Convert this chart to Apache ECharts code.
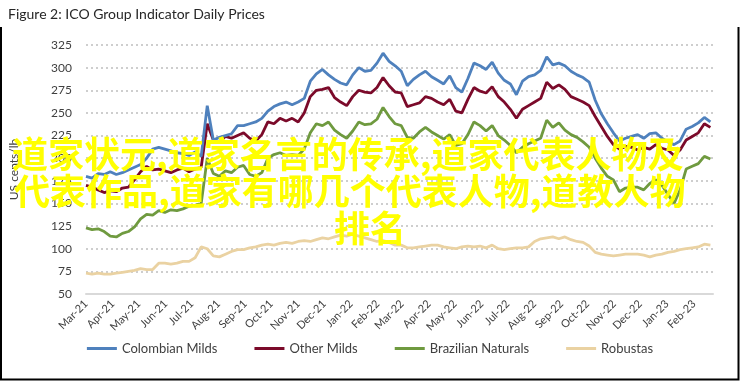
<!DOCTYPE html>
<html>
<head>
<meta charset="utf-8">
<script src="https://cdn.jsdelivr.net/npm/echarts@6/dist/echarts.min.js"></script>
<style>
html,body{margin:0;padding:0;background:#fff;}
#chart{width:740px;height:381px;}
</style>
</head>
<body>
<div id="chart"></div>
<script>
// ---- data (weekly samples) ----
const startDate = '2021-03-01';
const weekCount = 104;
const monthNames = ['Jan','Feb','Mar','Apr','May','Jun','Jul','Aug','Sep','Oct','Nov','Dec'];
const seriesNames = ['Colombian Milds','Other Milds','Brazilian Naturals','Robustas'];

const colombianMilds = [180,178,183,182,185,182,184,187,190,193,200,210,212,210,208,206,205,203,207,202,258,220,223,225,227,236,
  236,238,240,244,252,257,260,262,259,262,266,285,293,298,292,287,283,281,292,300,296,297,305,316,307,302,
  296,280,287,292,296,290,286,282,291,278,273,288,305,302,298,306,294,286,282,270,285,290,292,297,312,303,
  305,302,296,292,289,284,264,249,238,228,219,222,224,226,222,227,228,222,218,215,219,232,235,239,245,240];
const otherMilds = [170,168,165,162,164,163,167,168,176,185,191,187,188,186,184,187,189,185,188,190,238,220,218,224,222,225,
  228,222,219,226,240,238,244,241,244,240,250,268,275,276,278,267,262,258,268,275,273,272,278,289,280,273,
  272,257,259,261,268,266,262,259,265,252,250,265,278,274,272,279,268,262,254,244,254,258,262,266,284,277,
  281,276,268,265,262,258,246,235,224,215,210,213,212,209,212,210,215,211,209,203,209,220,224,228,238,234];
const brazilianNaturals = [123,121,122,119,114,113,117,119,124,133,138,137,142,140,143,142,144,147,148,150,200,183,180,186,184,190,
  192,182,180,184,200,204,206,203,204,203,210,228,238,236,240,231,226,222,230,240,237,238,243,256,246,238,
  236,223,222,229,234,229,225,221,226,214,216,226,240,236,230,236,225,220,214,206,212,216,219,222,242,234,
  239,231,226,223,218,212,200,189,180,176,163,167,168,168,165,172,176,170,160,150,165,188,191,194,202,199];
const robustas = [73,72,73,72,72,73,74,75,76,78,77,77,84,84,83,84,86,86,90,102,100,92,91,94,97,99,
  99,101,102,104,105,104,106,107,106,108,109,108,110,112,111,113,115,114,116,114,112,110,108,109,107,104,
  104,101,101,102,103,104,104,102,101,100,102,103,102,103,101,104,100,99,100,101,101,102,108,111,112,113,
  111,113,110,108,107,103,96,94,93,92,93,94,94,94,93,91,93,94,96,97,99,100,101,102,105,104];

const overlayLines = ['道家状元,道家名言的传承,道家代表人物及','代表作品,道家有哪几个代表人物,道教人物','排名'];

// weekly dates (x positions)
const dates = [];
for (let i = 0; i < weekCount; i++) {
  const d = new Date(startDate + 'T00:00:00');
  d.setDate(d.getDate() + 7 * i);
  dates.push(d);
}
function pairs(vals){ return vals.map((v,i)=>[dates[i].getTime(), v]); }

const colors = ['#4f81bd','#7b0a2a','#6f9a3f','#ead2a2'];
const allSeries = [colombianMilds, otherMilds, brazilianNaturals, robustas];

const chart = echarts.init(document.getElementById('chart'), null, {renderer:'canvas'});
const font = 'Lato';
const overlayFont = 'bold 36px "Noto Sans CJK SC"';
chart.setOption({
  animation:false,
  color: colors,
  title:{
    text:'Figure 2: ICO Group Indicator Daily Prices',
    left:3, top:2,
    textStyle:{fontFamily:font, fontSize:14, fontWeight:'normal', color:'#262626'}
  },
  grid:{left:81, right:27, top:45, bottom:87},
  legend:{
    data:seriesNames, top:337, left:'center',
    icon:'rect', itemWidth:30, itemHeight:3, itemGap:37,
    textStyle:{fontFamily:font, fontSize:13, color:'#404040'}
  },
  xAxis:{
    type:'time',
    min: new Date(startDate + 'T00:00:00').getTime(),
    max: new Date('2023-02-23T00:00:00').getTime(),
    minInterval: 28*86400000, maxInterval: 31*86400000,
    splitNumber: 24,
    axisLine:{show:true, lineStyle:{color:'#d9d9d9', width:2}},
    axisTick:{show:false},
    splitLine:{show:false},
    axisLabel:{
      rotate:45, margin:8, fontFamily:font, fontSize:11, color:'#404040',
      showMaxLabel:false, hideOverlap:false,
      formatter:function(val){ const d=new Date(val); return monthNames[d.getMonth()]+'-'+String(d.getFullYear()).slice(2); }
    }
  },
  yAxis:{
    type:'value', min:50, max:325, interval:25,
    name:'US cents/lb', nameLocation:'middle', nameGap:66, nameRotate:90,
    nameTextStyle:{fontFamily:font, fontSize:12, color:'#404040'},
    axisLine:{show:false}, axisTick:{show:false},
    axisLabel:{fontFamily:font, fontSize:12, color:'#404040', margin:14},
    splitLine:{lineStyle:{type:[2,3], color:'#bfbfbf', width:1.5}}
  },
  series: seriesNames.map((n,k)=>({
    name:n, type:'line', data:pairs(allSeries[k]), showSymbol:false, symbol:'none',
    lineStyle:{width:2.8, color:colors[k]}, itemStyle:{color:colors[k]}, z: 10 - k
  })),
  graphic:[
    {type:'polyline', z:1, silent:true, shape:{points:[[1,27],[1,379.5],[738.5,379.5],[738.5,27]]}, style:{stroke:'#000', lineWidth:2, fill:null}},
    {type:'text', z:100, left:12, top:136, style:{text:overlayLines[0], fill:'#ffff00', font:overlayFont}},
    {type:'text', z:100, left:14, top:173, style:{text:overlayLines[1], fill:'#ffff00', font:overlayFont}},
    {type:'text', z:100, left:'center', top:210, style:{text:overlayLines[2], fill:'#ffff00', font:overlayFont}}
  ]
});
</script>
</body>
</html>
